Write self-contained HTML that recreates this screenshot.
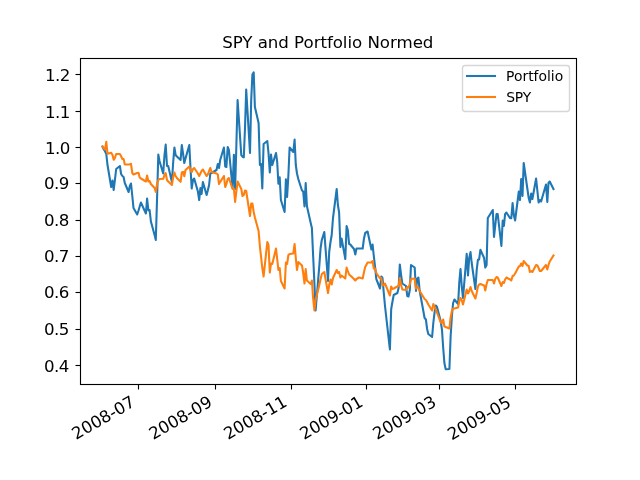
<!DOCTYPE html>
<html lang="en">
<head>
<meta charset="utf-8">
<title>SPY and Portfolio Normed</title>
<style>
html,body{margin:0;padding:0;background:#fff;}
body{width:640px;height:480px;overflow:hidden;}
svg{display:block;}
text{font-family:"DejaVu Sans","Liberation Sans",sans-serif;fill:#000;}
.t12{font-size:16.667px;}
.t10{font-size:13.889px;}
.tk{stroke:#000;stroke-width:1.111;fill:none;}
</style>
</head>
<body>
<svg width="640" height="480" viewBox="0 0 640 480">
<rect x="0" y="0" width="640" height="480" fill="#ffffff"/>
<clipPath id="ax"><rect x="80" y="57.6" width="496" height="326.4"/></clipPath>
<line class="tk" x1="138.5" y1="384.5" x2="138.5" y2="389.5"/>
<text class="t12" style="letter-spacing:0.00px" transform="translate(76.03 440.11) rotate(-30)">2008-07</text>
<line class="tk" x1="215.5" y1="384.5" x2="215.5" y2="389.5"/>
<text class="t12" style="letter-spacing:0.00px" transform="translate(153.13 440.11) rotate(-30)">2008-09</text>
<line class="tk" x1="291.5" y1="384.5" x2="291.5" y2="389.5"/>
<text class="t12" style="letter-spacing:0.00px" transform="translate(227.90 440.11) rotate(-30)">2008-11</text>
<line class="tk" x1="366.5" y1="384.5" x2="366.5" y2="389.5"/>
<text class="t12" style="letter-spacing:0.00px" transform="translate(303.96 440.11) rotate(-30)">2009-01</text>
<line class="tk" x1="439.5" y1="384.5" x2="439.5" y2="389.5"/>
<text class="t12" style="letter-spacing:0.00px" transform="translate(377.05 440.11) rotate(-30)">2009-03</text>
<line class="tk" x1="515.5" y1="384.5" x2="515.5" y2="389.5"/>
<text class="t12" style="letter-spacing:0.00px" transform="translate(451.81 440.61) rotate(-30)">2009-05</text>
<line class="tk" x1="80.5" y1="365.5" x2="75.5" y2="365.5"/>
<text class="t12" style="letter-spacing:-0.60px" text-anchor="end" x="68.65" y="372.00">0.4</text>
<line class="tk" x1="80.5" y1="329.5" x2="75.5" y2="329.5"/>
<text class="t12" style="letter-spacing:-0.60px" text-anchor="end" x="68.65" y="335.00">0.5</text>
<line class="tk" x1="80.5" y1="292.5" x2="75.5" y2="292.5"/>
<text class="t12" style="letter-spacing:-0.60px" text-anchor="end" x="68.65" y="298.00">0.6</text>
<line class="tk" x1="80.5" y1="256.5" x2="75.5" y2="256.5"/>
<text class="t12" style="letter-spacing:-0.60px" text-anchor="end" x="68.65" y="262.00">0.7</text>
<line class="tk" x1="80.5" y1="220.5" x2="75.5" y2="220.5"/>
<text class="t12" style="letter-spacing:-0.60px" text-anchor="end" x="68.65" y="226.00">0.8</text>
<line class="tk" x1="80.5" y1="183.5" x2="75.5" y2="183.5"/>
<text class="t12" style="letter-spacing:-0.60px" text-anchor="end" x="68.65" y="189.00">0.9</text>
<line class="tk" x1="80.5" y1="147.5" x2="75.5" y2="147.5"/>
<text class="t12" style="letter-spacing:-0.60px" text-anchor="end" x="69.65" y="154.00">1.0</text>
<line class="tk" x1="80.5" y1="111.5" x2="75.5" y2="111.5"/>
<text class="t12" style="letter-spacing:-0.60px" text-anchor="end" x="69.65" y="118.00">1.1</text>
<line class="tk" x1="80.5" y1="74.5" x2="75.5" y2="74.5"/>
<text class="t12" style="letter-spacing:-0.60px" text-anchor="end" x="69.65" y="81.00">1.2</text>
<g clip-path="url(#ax)" fill="none" stroke-width="2.083" stroke-linejoin="round" stroke-linecap="square">
<polyline stroke="#1f77b4" points="102.5,146.5 103.8,149.5 105.0,151.2 106.3,154.0 107.5,165.0 111.2,187.0 112.5,180.5 113.7,190.0 114.9,180.0 116.2,169.0 119.9,166.0 121.1,174.0 122.4,176.0 123.6,177.0 124.8,183.0 128.6,192.0 129.8,186.0 131.0,183.5 132.3,196.0 133.5,208.0 137.2,214.5 138.5,210.5 139.7,206.5 140.9,202.5 145.9,213.5 147.1,198.5 148.4,210.5 149.6,210.0 150.9,221.5 154.6,235.0 155.8,240.0 157.1,197.0 158.3,154.5 159.5,161.0 163.2,173.5 164.5,155.0 165.7,144.5 167.0,166.0 168.2,166.0 171.9,182.0 173.2,162.0 174.4,147.5 175.6,155.0 176.9,156.5 180.6,160.0 181.8,145.0 183.1,154.0 184.3,163.0 185.5,158.5 189.3,145.0 190.5,168.0 191.7,188.5 193.0,180.0 194.2,178.5 197.9,191.5 199.2,200.0 200.4,188.0 201.6,194.0 202.9,182.0 206.6,195.0 207.8,190.5 209.1,185.0 210.3,173.5 211.6,173.0 216.5,170.0 217.8,164.0 219.0,168.0 220.2,160.0 223.9,147.5 225.2,166.5 226.4,167.0 227.7,147.0 228.9,150.0 232.6,188.0 233.9,154.7 235.1,189.0 236.3,148.0 237.6,100.0 241.3,155.2 242.5,156.7 243.8,157.3 245.0,128.0 246.2,89.5 250.0,153.0 251.2,100.0 252.4,74.5 253.7,72.4 254.9,107.0 258.6,123.0 259.9,165.0 261.1,164.0 262.3,188.5 263.6,144.0 267.3,141.0 268.5,153.0 269.8,172.5 271.0,154.5 272.3,165.0 276.0,153.0 277.2,162.0 278.4,183.7 279.7,177.3 280.9,200.0 284.6,212.0 285.9,179.3 287.1,197.0 288.4,175.0 289.6,147.5 293.3,152.0 294.6,139.5 295.8,165.0 297.0,173.5 298.3,179.0 302.0,190.5 303.2,191.5 304.5,206.5 305.7,183.0 306.9,206.0 310.7,223.0 311.9,228.0 313.1,255.0 314.4,283.0 315.6,310.5 319.3,266.0 320.6,248.0 321.8,240.0 324.3,232.0 328.0,281.0 329.2,252.0 330.5,242.0 331.7,235.0 333.0,218.0 336.7,189.0 337.9,205.0 339.1,212.5 340.4,247.0 341.6,238.5 345.3,259.0 346.6,226.0 347.8,230.0 349.1,244.0 350.3,244.5 354.0,249.0 355.3,254.5 356.5,248.5 359.0,248.5 362.7,248.5 363.9,239.0 365.2,233.0 367.6,231.5 371.4,249.5 372.6,244.5 373.8,256.0 375.1,267.0 376.3,279.0 380.0,288.5 381.3,276.5 382.5,278.0 383.7,292.0 385.0,306.0 389.9,349.5 391.2,309.0 392.4,302.0 393.7,295.0 397.4,293.0 398.6,288.0 399.8,264.5 401.1,275.0 402.3,283.5 406.0,286.0 407.3,296.0 408.5,296.5 409.8,290.0 411.0,265.0 414.7,267.5 416.0,291.0 417.2,279.0 418.4,277.5 419.7,291.0 424.6,318.0 425.9,319.5 427.1,329.0 428.3,334.0 432.1,337.0 433.3,323.0 434.5,313.0 435.8,305.5 437.0,307.0 440.7,321.0 442.0,330.0 443.2,348.0 444.4,363.0 445.7,369.2 449.4,369.0 450.6,337.0 451.9,316.0 453.1,303.0 454.4,299.5 458.1,304.0 459.3,282.0 460.5,269.0 461.8,287.0 463.0,298.0 466.7,253.7 468.0,275.5 469.2,258.0 470.5,252.1 471.7,263.0 475.4,289.0 476.7,270.0 477.9,259.8 479.1,259.5 480.4,249.8 484.1,258.0 485.3,267.5 486.6,265.0 487.8,218.0 492.8,210.0 494.0,237.0 495.2,226.0 496.5,214.0 497.7,214.0 501.4,246.0 502.7,220.5 503.9,226.0 505.1,214.2 506.4,212.5 510.1,218.2 511.3,218.2 512.6,203.0 513.8,215.0 515.1,220.5 518.8,191.5 520.0,200.0 521.2,179.0 522.5,196.0 523.7,163.0 527.4,189.0 528.7,198.0 529.9,202.5 531.2,193.5 532.4,199.0 536.1,178.5 537.4,191.0 538.6,202.5 539.8,200.0 541.1,201.5 546.0,184.5 547.3,202.0 548.5,183.0 549.7,181.5 553.5,189.0"/>
<polyline stroke="#ff7f0e" points="102.5,146.5 103.8,148.5 105.0,149.5 106.3,141.8 107.5,153.8 111.2,152.8 112.5,155.0 113.7,159.8 114.9,158.0 116.2,154.0 119.9,154.0 121.1,156.2 122.4,159.0 123.6,159.0 124.8,164.5 128.6,164.5 129.8,164.2 131.0,163.8 132.3,173.0 133.5,174.5 137.2,173.0 138.5,172.8 139.7,177.5 140.9,178.5 145.9,181.5 147.1,175.5 148.4,181.5 149.6,181.0 150.9,184.0 154.6,188.0 155.8,192.0 157.1,184.0 158.3,180.0 159.5,179.0 163.2,178.8 164.5,175.0 165.7,173.2 167.0,180.0 168.2,181.5 171.9,185.0 173.2,177.0 174.4,172.5 175.6,176.0 176.9,178.0 180.6,181.8 181.8,172.5 183.1,171.8 184.3,176.2 185.5,170.0 189.3,166.5 190.5,170.5 191.7,172.0 193.0,169.0 194.2,168.0 197.9,173.5 199.2,176.0 200.4,173.5 201.6,171.0 202.9,169.5 206.6,176.0 207.8,174.5 209.1,171.0 210.3,168.0 211.6,172.0 216.5,173.5 217.8,174.5 219.0,184.0 220.2,182.0 223.9,176.0 225.2,187.0 226.4,184.0 227.7,179.0 228.9,178.0 232.6,189.0 233.9,188.5 235.1,202.0 236.3,192.0 237.6,181.5 241.3,189.0 242.5,196.0 243.8,195.0 245.0,190.5 246.2,191.0 250.0,216.0 251.2,203.5 252.4,203.5 253.7,212.0 254.9,217.5 258.6,231.0 259.9,246.5 261.1,257.0 262.3,268.0 263.6,276.5 267.3,242.0 268.5,245.0 269.8,272.5 271.0,263.5 272.3,264.0 276.0,248.5 277.2,259.0 278.4,270.0 279.7,268.0 280.9,281.0 284.6,288.5 285.9,262.5 287.1,264.0 288.4,255.0 289.6,254.0 293.3,253.5 294.6,244.0 295.8,258.0 297.0,270.0 298.3,262.0 302.0,265.5 303.2,273.0 304.5,283.5 305.7,269.0 306.9,280.5 310.7,284.0 311.9,280.5 313.1,298.0 314.4,310.5 315.6,300.0 319.3,285.0 320.6,279.0 321.8,274.0 324.3,272.0 328.0,293.0 329.2,285.0 330.5,279.5 331.7,284.5 333.0,278.0 336.7,270.0 337.9,273.0 339.1,272.0 340.4,277.5 341.6,275.5 345.3,278.5 346.6,267.5 347.8,271.0 349.1,274.5 350.3,275.5 354.0,279.0 355.3,280.5 356.5,279.0 359.0,277.5 362.7,278.5 363.9,272.5 365.2,267.0 367.6,262.5 371.4,262.5 372.6,261.0 373.8,268.5 375.1,268.5 376.3,273.0 380.0,278.5 381.3,278.0 382.5,285.5 383.7,285.0 385.0,283.5 389.9,295.5 391.2,286.5 392.4,289.0 393.7,288.5 397.4,286.5 398.6,286.0 399.8,278.0 401.1,285.0 402.3,289.5 406.0,290.0 407.3,287.0 408.5,287.5 409.8,284.0 411.0,279.0 414.7,278.5 416.0,288.5 417.2,287.0 418.4,287.5 419.7,291.0 424.6,299.0 425.9,300.0 427.1,302.0 428.3,304.5 432.1,310.5 433.3,304.0 434.5,306.5 435.8,309.5 437.0,312.5 440.7,322.5 442.0,323.0 443.2,319.5 444.4,326.5 445.7,327.0 449.4,328.5 450.6,317.5 451.9,311.0 453.1,308.5 454.4,308.5 458.1,307.5 459.3,301.0 460.5,298.0 461.8,300.5 463.0,304.5 466.7,289.5 468.0,293.5 469.2,291.0 470.5,287.0 471.7,291.0 475.4,298.5 476.7,293.0 477.9,286.5 479.1,284.5 480.4,284.0 484.1,285.5 485.3,290.5 486.6,284.0 487.8,280.0 492.8,280.0 494.0,283.5 495.2,279.0 496.5,277.0 497.7,277.5 501.4,286.0 502.7,282.0 503.9,283.0 505.1,279.5 506.4,277.5 510.1,279.5 511.3,280.5 512.6,276.0 513.8,275.5 515.1,273.5 518.8,266.5 520.0,266.0 521.2,263.5 522.5,266.0 523.7,261.0 527.4,265.5 528.7,266.0 529.9,272.0 531.2,271.0 532.4,272.0 536.1,265.0 537.4,265.5 538.6,268.0 539.8,271.0 541.1,271.0 546.0,265.0 547.3,269.5 548.5,265.0 549.7,261.5 553.5,255.5"/>
</g>
<rect x="80.5" y="58.5" width="496" height="326" fill="none" stroke="#000" stroke-width="1.111" stroke-linejoin="miter"/>
<text class="t12" style="letter-spacing:-0.05px" text-anchor="middle" x="327.75" y="48.00">SPY and Portfolio Normed</text>
<rect x="462.5" y="65.5" width="107" height="46" rx="2.78" ry="2.78" fill="#fff" fill-opacity="0.8" stroke="#ccc" stroke-opacity="0.8" stroke-width="1.389"/>
<line x1="467" y1="76" x2="495" y2="76" stroke="#1f77b4" stroke-width="2.083" stroke-linecap="square"/>
<text class="t10" style="letter-spacing:0.00px" x="506.12" y="81.00">Portfolio</text>
<line x1="467" y1="97" x2="495" y2="97" stroke="#ff7f0e" stroke-width="2.083" stroke-linecap="square"/>
<text class="t10" style="letter-spacing:-0.30px" x="506.37" y="102.00">SPY</text>
</svg>
</body>
</html>
